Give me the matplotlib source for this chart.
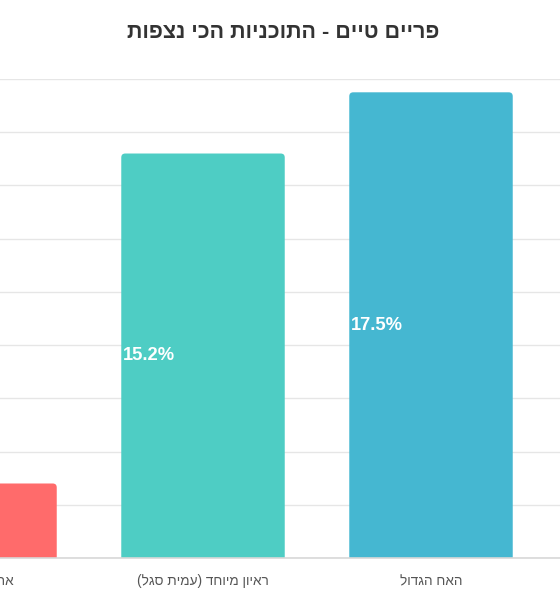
import matplotlib
matplotlib.use("Agg")
import matplotlib.pyplot as plt
from matplotlib.patches import FancyBboxPatch
from matplotlib.transforms import blended_transform_factory

plt.rcParams['font.family'] = ['Liberation Sans', 'DejaVu Sans']

title = "פריים טיים - התוכניות הכי נצפות"
categories = ["אתמול בלילה", "ראיון מיוחד (עמית סגל)", "האח הגדול"]
values = [2.8, 15.2, 17.5]
colors = ["#FF6B6B", "#4ECDC4", "#45B7D1"]
y_max = 18
y_step = 2


def rtl(s):
    r = s[::-1]
    return r.translate(str.maketrans("()", ")("))


fig = plt.figure(figsize=(5.6, 6.0), dpi=100)
ax = fig.add_axes([0.0, 42 / 600, 1.0, (558 - 79) / 600])

x = list(range(len(categories)))
width = 0.717
bars = ax.bar(x, values, width=width, color=colors, zorder=2)

ax.set_xlim(0.1096, 2.5658)
ax.set_ylim(0, y_max)

# rounded top corners (about 4 px)
r_x = 4 / 228
r_y = 4 / 26.6
for b, c in zip(bars, colors):
    bx, by, bw, bh = b.get_x(), b.get_y(), b.get_width(), b.get_height()
    b.set_visible(False)
    p = FancyBboxPatch((bx, by - 2 * r_y), bw, bh + 2 * r_y,
                       boxstyle=f"round,pad=0,rounding_size={r_x}",
                       mutation_aspect=r_y / r_x, facecolor=c,
                       edgecolor="none", zorder=2)
    ax.add_patch(p)

ax.set_yticks(list(range(0, y_max + 1, y_step)))
ax.yaxis.grid(True, color="#e6e6e6", linewidth=1, zorder=0)
ax.set_axisbelow(True)
ax.tick_params(left=False, bottom=False, labelleft=False, labelbottom=False)
for s in ["left", "right", "top"]:
    ax.spines[s].set_visible(False)
ax.spines["bottom"].set_color("#d8d8d8")
ax.spines["bottom"].set_linewidth(1.2)
ax.spines["bottom"].set_zorder(3)

for xi, v in zip(x, values):
    ax.text(xi - width / 2 + 0.008, v / 2, f"{v}%", ha="left", va="center",
            color="white", fontsize=13.2, fontweight="bold",
            family=["Liberation Sans", "DejaVu Sans"], zorder=3, clip_on=False)

tr = blended_transform_factory(ax.transData, fig.transFigure)
for xi, c in zip(x, categories):
    ax.text(xi, 1 - 581 / 600, rtl(c), transform=tr, ha="center", va="center",
            color="#555555", fontsize=9.8, clip_on=False)

fig.text(283 / 560, 1 - 33 / 600, rtl(title), ha="center", va="center",
         color="#333333", fontsize=15.5, fontweight="bold")

fig.savefig("out.png", dpi=100, facecolor="white")
